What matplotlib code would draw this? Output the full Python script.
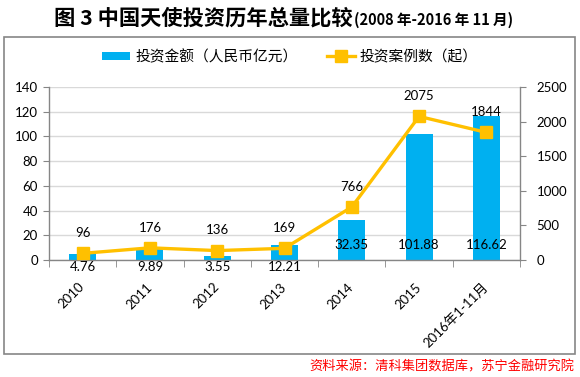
import numpy as np
import matplotlib.pyplot as plt
from matplotlib.patches import Rectangle, Patch
from matplotlib.lines import Line2D

# ---- data ----
years = ['2010', '2011', '2012', '2013', '2014', '2015', '2016年1-11月']
amount = [4.76, 9.89, 3.55, 12.21, 32.35, 101.88, 116.62]   # 投资金额（人民币亿元）
cases = [96, 176, 136, 169, 766, 2075, 1844]                # 投资案例数（起）

BLUE = '#00B0F0'
GOLD = '#FFC000'
GRID = '#D9D9D9'
AXIS = '#868686'
CJK = ['Noto Sans CJK SC', 'DejaVu Sans']

plt.rcParams['font.family'] = ['Lato', 'Noto Sans CJK SC', 'DejaVu Sans']
plt.rcParams['font.size'] = 9

W, H = 580, 377
fig = plt.figure(figsize=(W / 100, H / 100), dpi=100)

# outer chart box
fig.patches.append(Rectangle((4 / W, 1 - 354 / H), 571 / W, 317 / H,
                             transform=fig.transFigure, fill=False,
                             edgecolor=AXIS, linewidth=1.2))

left, right, top, bottom = 49, 520, 87, 260
ax = fig.add_axes([left / W, 1 - bottom / H, (right - left) / W, (bottom - top) / H])
ax2 = ax.twinx()

x = np.arange(len(years))
ax.bar(x, amount, width=0.4, color=BLUE, zorder=2)
ax2.plot(x, cases, color=GOLD, lw=2.4, marker='s', markersize=8, zorder=3)

ax.set_xlim(-0.5, len(years) - 0.5)
ax.set_ylim(0, 140)
ax.set_yticks(np.arange(0, 141, 20))
ax2.set_ylim(0, 2500)
ax2.set_yticks(np.arange(0, 2501, 500))

ax.yaxis.grid(True, color=GRID, lw=1)
ax.set_axisbelow(True)

for a in (ax, ax2):
    for s in a.spines.values():
        s.set_visible(False)
ax.spines['left'].set_visible(True)
ax.spines['bottom'].set_visible(True)
ax2.spines['right'].set_visible(True)
for s in (ax.spines['left'], ax.spines['bottom'], ax2.spines['right']):
    s.set_color(AXIS)
    s.set_linewidth(1)

ax.tick_params(axis='y', length=4, color=AXIS, pad=4, labelsize=9.5)
ax2.tick_params(axis='y', length=4, color=AXIS, pad=8, labelsize=9.5)

# category labels, tick marks between categories
ax.set_xticks(x)
ax.set_xticklabels(years, rotation=45, ha='right', va='center',
                   rotation_mode='anchor', fontsize=9.5)
ax.tick_params(axis='x', which='major', length=0, pad=18)
ax.set_xticks(np.arange(-0.5, len(years), 1), minor=True)
ax.tick_params(axis='x', which='minor', length=5, color=AXIS)

# data labels
for xi, v in zip(x, amount):
    off = 11 if v > 20 else -5
    ax.annotate(f'{v:.2f}', (xi, 0), xytext=(0, off), textcoords='offset points',
                ha='center', va='center', fontsize=9.5, zorder=4)
for xi, v in zip(x, cases):
    ax2.annotate(f'{v}', (xi, v), xytext=(0, 14.5), textcoords='offset points',
                 ha='center', va='center', fontsize=9.5, zorder=4)

# legend
handles = [Patch(facecolor=BLUE, edgecolor='none'),
           Line2D([], [], color=GOLD, lw=2.4, marker='s', markersize=8)]
labels = ['投资金额（人民币亿元）', '投资案例数（起）']
fig.legend(handles, labels, loc='center', bbox_to_anchor=(290 / W, 1 - 57 / H),
           ncol=2, frameon=False, prop={'family': CJK, 'size': 10.6},
           handlelength=1.9, handleheight=0.55, handletextpad=0.35, columnspacing=2.0)

# title
fig.text(353 / W, 1 - 25 / H, '图 3 中国天使投资历年总量比较', ha='right', va='baseline',
         family=CJK, fontsize=15.3, fontweight='bold')
fig.text(354 / W, 1 - 25 / H, '(2008 年-2016 年 11 月)', ha='left', va='baseline',
         family=CJK, fontsize=10.5, fontweight='bold')

# source
fig.text(574 / W, 1 - 367 / H, '资料来源：清科集团数据库，苏宁金融研究院', ha='right', va='center',
         family=CJK, fontsize=9.5, color='red', style='italic')

fig.savefig('out.png', dpi=100)
